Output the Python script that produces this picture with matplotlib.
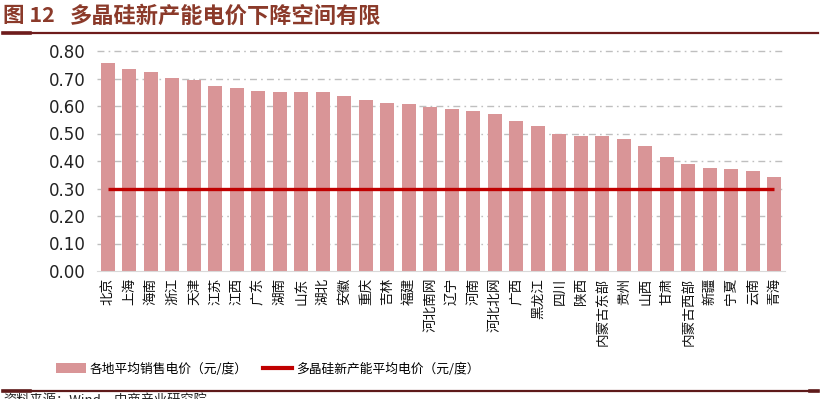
import matplotlib
matplotlib.use("Agg")
import matplotlib.pyplot as plt
from matplotlib.patches import Patch
from matplotlib.lines import Line2D

plt.rcParams['font.family'] = ['Noto Sans CJK SC', 'DejaVu Sans']

regions = ["北京", "上海", "海南", "浙江", "天津", "江苏", "江西", "广东", "湖南", "山东",
           "湖北", "安徽", "重庆", "吉林", "福建", "河北南网", "辽宁", "河南", "河北北网", "广西",
           "黑龙江", "四川", "陕西", "内蒙古东部", "贵州", "山西", "甘肃", "内蒙古西部", "新疆", "宁夏",
           "云南", "青海"]
avg_price = [0.758, 0.735, 0.725, 0.703, 0.695, 0.672, 0.667, 0.653, 0.650, 0.650,
             0.650, 0.635, 0.622, 0.612, 0.608, 0.598, 0.590, 0.581, 0.572, 0.545,
             0.527, 0.499, 0.490, 0.490, 0.481, 0.455, 0.415, 0.388, 0.375, 0.370,
             0.365, 0.343]
poly_price = [0.30] * len(regions)
yticks = [0.0, 0.1, 0.2, 0.3, 0.4, 0.5, 0.6, 0.7, 0.8]

title_num = "图 12"
title = "多晶硅新产能电价下降空间有限"
legend_bar = "各地平均销售电价（元/度）"
legend_line = "多晶硅新产能平均电价（元/度）"
source = "资料来源：Wind，中商产业研究院"

W, H = 824, 399
fig = plt.figure(figsize=(W / 100, H / 100), dpi=100)
ax = fig.add_axes([97 / W, 1 - 271 / H, (785 - 97) / W, (271 - 51) / H])

x = list(range(len(regions)))
bar_color = '#D99597'
line_color = '#C00000'
ax.bar(x, avg_price, width=0.64, color=bar_color, zorder=2)
ax.plot(x, poly_price, color=line_color, lw=2.4, zorder=3, solid_capstyle='butt')

ax.set_xlim(-0.5, len(regions) - 0.5)
ax.set_ylim(0, 0.8)
ax.set_yticks(yticks)
ax.set_yticklabels([f"{v:.2f}" for v in yticks], fontsize=12, color='#222222',
                   family=['DejaVu Sans'])
ax.set_xticks(x)
ax.set_xticklabels(regions, rotation=90, fontsize=9.8, color='#111111', va='top')
ax.tick_params(axis='both', length=0)
ax.tick_params(axis='y', pad=8)
ax.tick_params(axis='x', pad=5)

for v in yticks[1:]:
    ax.axhline(v, color='#BFBFBF', lw=1.0, ls=(0, (5, 3, 1.2, 3)), zorder=1, clip_on=False)
for s in ['top', 'right', 'left']:
    ax.spines[s].set_visible(False)
ax.spines['bottom'].set_color('#D9D9D9')
ax.spines['bottom'].set_linewidth(0.8)

# Title
fig.text(3 / W, 1 - 16 / H, title_num, fontsize=15.5, fontweight='bold', color='#8B3A2A',
         va='center', ha='left')
fig.text(70 / W, 1 - 16 / H, title, fontsize=16, fontweight='bold', color='#8B3A2A',
         va='center', ha='left')
# Title underline
fig.add_artist(Line2D([3 / W, 818 / W], [1 - 32.5 / H] * 2, color='#6E1C1C', lw=1.6))
fig.add_artist(Line2D([3 / W, 30 / W], [1 - 32.5 / H] * 2, color='#6E1C1C', lw=2.6))

# Legend
handles = [Patch(facecolor=bar_color, edgecolor='none'),
           Line2D([0], [0], color=line_color, lw=3)]
fig.legend(handles, [legend_bar, legend_line], loc='center', ncol=2, frameon=False,
           bbox_to_anchor=(268 / W, 1 - 369 / H), fontsize=9.2, handlelength=2.3,
           handleheight=0.8, columnspacing=1.2, handletextpad=0.3)

# Bottom rule
fig.add_artist(Line2D([3 / W, 818 / W], [1 - 391 / H] * 2, color='#5E1A1A', lw=1.6))
fig.add_artist(Line2D([3 / W, 30 / W], [1 - 391 / H] * 2, color='#5E1A1A', lw=2.6))
fig.add_artist(Line2D([810 / W, 818 / W], [1 - 391 / H] * 2, color='#5E1A1A', lw=2.6))

# Source (cut off at bottom, as in the reference)
fig.text(3 / W, 1 - 394 / H, source, fontsize=9.5, color='#222222', va='top', ha='left')

fig.savefig("out.png", dpi=100)
